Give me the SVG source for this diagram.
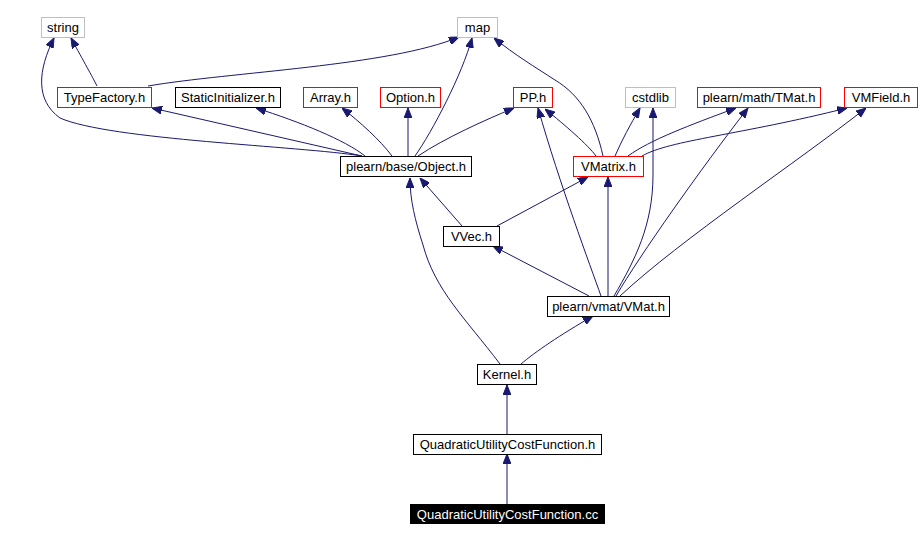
<svg xmlns="http://www.w3.org/2000/svg" width="921" height="540" viewBox="0 0 921 540">
<style>
.n rect{fill:#fff;stroke-width:1}
.g rect{stroke:#bfbfbf}
.r rect{stroke:#ff0000}
.b rect{stroke:#000}
.n text{font-family:"Liberation Sans",Arial,sans-serif;font-size:13px;text-anchor:middle;fill:#000}
.k rect{fill:#000;stroke:#000}
.k text{fill:#fff}
#edges path{fill:none;stroke:#191970;stroke-width:1;marker-end:url(#ah)}
</style>
<defs>
<marker id="ah" viewBox="0 0 10 8" refX="10" refY="4" markerWidth="10" markerHeight="8" markerUnits="userSpaceOnUse" orient="auto">
<path d="M0,0 L10,4 L0,8 z" fill="#191970" stroke="#191970"/>
</marker>
</defs>
<rect width="921" height="540" fill="#fff"/>
<g id="edges">
<path d="M97,86 C92,76 84,62 71,38"/>
<path d="M362,156 C300,146 110,140 60,118 C35,100 38,70 54,38"/>
<path d="M148,86 C230,72 390,66 459,37"/>
<path d="M362,156 L152,108"/>
<path d="M365,156 C345,140 300,122 256,108"/>
<path d="M392,156 C380,140 360,122 342,108"/>
<path d="M408,156 L408,108"/>
<path d="M415,156 C432,132 462,75 472,38"/>
<path d="M418,156 C445,138 485,120 514,108"/>
<path d="M596,156 C588,145 565,125 545,109"/>
<path d="M603,156 C595,120 580,95 555,80 C535,67 515,55 494,38"/>
<path d="M615,156 C622,140 630,125 640,108"/>
<path d="M628,156 C650,140 690,125 736,108"/>
<path d="M642,156 C670,140 740,135 847,108"/>
<path d="M462,226 L420,178"/>
<path d="M497,226 L588,177"/>
<path d="M589,296 L493,246"/>
<path d="M601,296 C590,265 560,185 538,108"/>
<path d="M608,296 L608,177"/>
<path d="M614,296 C635,260 653,225 653,175 L653,108"/>
<path d="M616,296 C640,255 700,170 748,108"/>
<path d="M620,296 C680,240 800,160 866,108"/>
<path d="M500,364 C465,318 435,290 423,245 C415,220 410,200 410,178"/>
<path d="M521,364 C535,352 560,335 593,316"/>
<path d="M507,434 L507,385"/>
<path d="M507,504 L507,454"/>
</g>
<g id="n_string" class="n g"><rect x="41.5" y="17.5" width="43" height="20"/><text x="63" y="32">string</text></g>
<g id="n_map" class="n g"><rect x="457.5" y="17.5" width="40" height="20"/><text x="477.5" y="32">map</text></g>
<g id="n_typefactory" class="n r"><rect x="57.5" y="87.5" width="94" height="20"/><text x="104.5" y="102">TypeFactory.h</text></g>
<g id="n_staticinit" class="n b"><rect x="175.5" y="87.5" width="105" height="20"/><text x="228" y="102">StaticInitializer.h</text></g>
<g id="n_array" class="n r"><rect x="303.5" y="87.5" width="54" height="20"/><text x="330.5" y="102">Array.h</text></g>
<g id="n_option" class="n r"><rect x="380.5" y="87.5" width="60" height="20"/><text x="410.5" y="102">Option.h</text></g>
<g id="n_pp" class="n r"><rect x="513.5" y="87.5" width="39" height="20"/><text x="533" y="102">PP.h</text></g>
<g id="n_cstdlib" class="n g"><rect x="625.5" y="87.5" width="50" height="20"/><text x="650.5" y="102">cstdlib</text></g>
<g id="n_tmat" class="n r"><rect x="697.5" y="87.5" width="123" height="20"/><text x="759" y="102">plearn/math/TMat.h</text></g>
<g id="n_vmfield" class="n r"><rect x="844.5" y="87.5" width="73" height="20"/><text x="881" y="102">VMField.h</text></g>
<g id="n_object" class="n b"><rect x="340.5" y="156.5" width="131" height="20"/><text x="406" y="171">plearn/base/Object.h</text></g>
<g id="n_vmatrix" class="n r"><rect x="573.5" y="156.5" width="70" height="20"/><text x="608.5" y="171">VMatrix.h</text></g>
<g id="n_vvec" class="n b"><rect x="443.5" y="226.5" width="56" height="20"/><text x="471.5" y="241">VVec.h</text></g>
<g id="n_vmat" class="n b"><rect x="547.5" y="296.5" width="122" height="20"/><text x="608.5" y="311">plearn/vmat/VMat.h</text></g>
<g id="n_kernel" class="n b"><rect x="477.5" y="364.5" width="59" height="20"/><text x="507" y="379">Kernel.h</text></g>
<g id="n_quch" class="n b"><rect x="413.5" y="434.5" width="188" height="20"/><text x="507.5" y="449">QuadraticUtilityCostFunction.h</text></g>
<g id="n_qucc" class="n k"><rect x="410.5" y="504.5" width="194" height="19"/><text x="507.5" y="519">QuadraticUtilityCostFunction.cc</text></g>
</svg>
